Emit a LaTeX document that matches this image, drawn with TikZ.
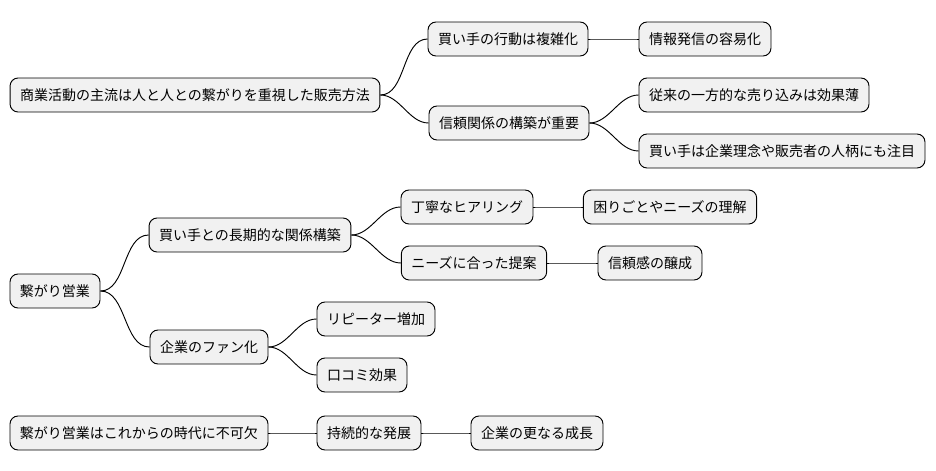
\documentclass[tikz,border=0pt]{standalone}
\usepackage{fontspec}
\setmainfont{Noto Sans CJK JP}
\usetikzlibrary{positioning,calc}
\definecolor{boxfill}{HTML}{F1F1F1}
\tikzset{font=\fontsize{10.5}{12}\selectfont}

\begin{document}
\begin{tikzpicture}[x=0.75pt, y=-0.75pt]
	\useasboundingbox (0,0) rectangle (936,471);
	\tikzstyle{every node}=[draw, fill=boxfill, rounded corners=6pt, inner xsep=7.5pt, minimum height=25.5pt, line width=0.7pt]
	\tikzstyle{link}=[line width=0.7pt, out=0, in=180, looseness=0.9]
	% first tree
	\node (shogyo) at (195, 95) {商業活動の主流は人と人との繋がりを重視した販売方法};
	\node (kodo) at (508, 39) {買い手の行動は複雑化};
	\node (joho) at (705, 39) {情報発信の容易化};
	\node (shinrai) at (509, 123) {信頼関係の構築が重要};
	\node (juurai) at (754, 95) {従来の一方的な売り込みは効果薄};
	\node (rinen) at (782, 151) {買い手は企業理念や販売者の人柄にも注目};

	\draw [link] (shogyo.east) to (kodo.west);
	\draw [link] (shogyo.east) to (shinrai.west);
	\draw [link] (kodo.east) to (joho.west);
	\draw [link] (shinrai.east) to (juurai.west);
	\draw [link] (shinrai.east) to (rinen.west);

	% second tree
	\node (eigyo) at (55, 291) {繋がり営業};
	\node (choki) at (250, 235) {買い手との長期的な関係構築};
	\node (hearing) at (467, 207) {丁寧なヒアリング};
	\node (rikai) at (670, 207) {困りごとやニーズの理解};
	\node (teian) at (474, 263) {ニーズに合った提案};
	\node (jousei) at (650, 263) {信頼感の醸成};
	\node (fan) at (209, 347) {企業のファン化};
	\node (repeat) at (376, 319) {リピーター増加};
	\node (kuchikomi) at (362, 375) {口コミ効果};

	\draw [link] (eigyo.east) to (choki.west);
	\draw [link] (eigyo.east) to (fan.west);
	\draw [link] (choki.east) to (hearing.west);
	\draw [link] (choki.east) to (teian.west);
	\draw [link] (hearing.east) to (rikai.west);
	\draw [link] (teian.east) to (jousei.west);
	\draw [link] (fan.east) to (repeat.west);
	\draw [link] (fan.east) to (kuchikomi.west);

	% third tree
	\node (fukaketsu) at (139, 433) {繋がり営業はこれからの時代に不可欠};
	\node (jizoku) at (369, 433) {持続的な発展};
	\node (seicho) at (537, 433) {企業の更なる成長};

	\draw [link] (fukaketsu) to (jizoku);
	\draw [link] (jizoku) to (seicho);
\end{tikzpicture}
\end{document}
